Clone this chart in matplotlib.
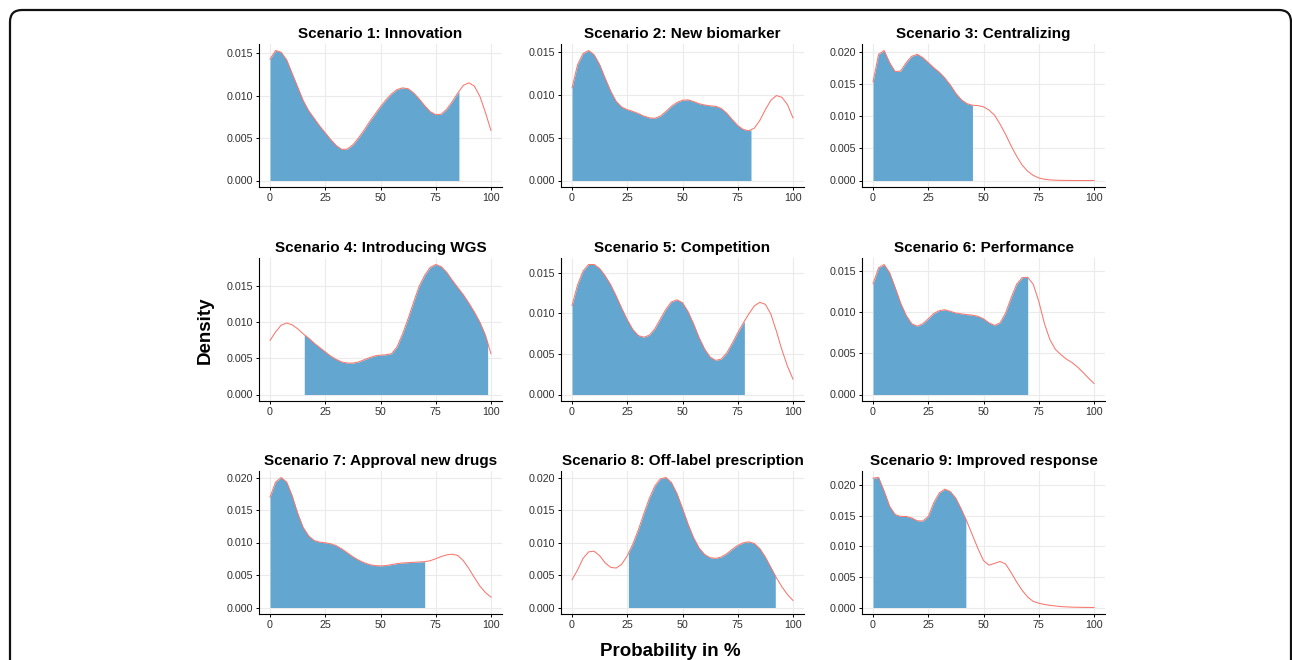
import numpy as np
import matplotlib
matplotlib.use('Agg')
import matplotlib.pyplot as plt
from matplotlib.ticker import MultipleLocator, FormatStrFormatter
from matplotlib.patches import FancyBboxPatch

plt.rcParams['font.family'] = ['Liberation Sans', 'DejaVu Sans']

# shared x grid (probability in %), density values (x 1e-3)
prob = [0, 2.5, 5, 7.5, 10, 12.5, 15, 17.5, 20, 22.5, 25, 27.5, 30, 32.5, 35,
        37.5, 40, 42.5, 45, 47.5, 50, 52.5, 55, 57.5, 60, 62.5, 65, 67.5, 70,
        72.5, 75, 77.5, 80, 82.5, 85, 87.5, 90, 92.5, 95, 97.5, 100]

titles = ['Scenario 1: Innovation', 'Scenario 2: New biomarker',
          'Scenario 3: Centralizing', 'Scenario 4: Introducing WGS',
          'Scenario 5: Competition', 'Scenario 6: Performance',
          'Scenario 7: Approval new drugs', 'Scenario 8: Off-label prescription',
          'Scenario 9: Improved response']

dens1 = [14.3, 15.3, 15.1, 14.2, 12.6, 11.0, 9.4, 8.2, 7.3, 6.4, 5.6, 4.8, 4.1,
         3.65, 3.7, 4.2, 5.0, 5.9, 6.9, 7.8, 8.7, 9.5, 10.2, 10.7, 10.9, 10.8,
         10.3, 9.6, 8.8, 8.1, 7.75, 7.8, 8.4, 9.3, 10.3, 11.2, 11.5, 11.1, 9.9,
         8.0, 5.9]
dens2 = [10.8, 13.5, 14.8, 15.15, 14.65, 13.5, 11.9, 10.4, 9.2, 8.55, 8.25,
         8.05, 7.8, 7.5, 7.3, 7.25, 7.5, 8.05, 8.65, 9.1, 9.35, 9.4, 9.2, 8.95,
         8.8, 8.7, 8.65, 8.4, 7.85, 7.1, 6.4, 5.95, 5.8, 6.1, 7.0, 8.25, 9.35,
         9.9, 9.7, 8.85, 7.3]
dens3 = [15.4, 19.7, 20.3, 18.4, 17.0, 17.1, 18.4, 19.4, 19.7, 19.2, 18.4, 17.6,
         16.9, 16.0, 14.9, 13.6, 12.6, 12.0, 11.75, 11.7, 11.5, 11.0, 10.2, 8.8,
         7.2, 5.4, 3.8, 2.4, 1.45, 0.8, 0.4, 0.2, 0.1, 0.05, 0.02, 0.01, 0.0,
         0.0, 0.0, 0.0, 0.0]
dens4 = [7.5, 8.65, 9.6, 9.9, 9.65, 9.1, 8.4, 7.8, 7.1, 6.5, 5.9, 5.3, 4.85, 4.5,
         4.35, 4.35, 4.5, 4.8, 5.1, 5.35, 5.45, 5.5, 5.65, 6.6, 8.4, 10.5, 12.8,
         15.0, 16.5, 17.6, 18.0, 17.7, 16.9, 15.8, 14.8, 13.8, 12.65, 11.4,
         10.0, 8.2, 5.65]
dens5 = [10.95, 13.5, 15.2, 16.0, 16.0, 15.5, 14.6, 13.5, 12.1, 10.6, 9.2, 8.0,
         7.25, 7.05, 7.3, 8.1, 9.3, 10.5, 11.4, 11.65, 11.3, 10.2, 8.7, 7.0,
         5.6, 4.6, 4.2, 4.35, 5.1, 6.3, 7.6, 8.8, 9.9, 10.9, 11.35, 11.1, 9.9,
         7.8, 5.5, 3.5, 1.9]
dens6 = [13.45, 15.4, 15.8, 14.8, 13.0, 11.1, 9.6, 8.6, 8.3, 8.6, 9.2, 9.85,
         10.2, 10.3, 10.1, 9.9, 9.8, 9.7, 9.65, 9.5, 9.2, 8.7, 8.4, 8.7, 9.9,
         11.75, 13.4, 14.2, 14.25, 13.4, 11.35, 8.7, 6.7, 5.5, 4.85, 4.3, 3.9,
         3.35, 2.7, 2.0, 1.35]
dens7 = [17.0, 19.3, 20.0, 19.3, 17.2, 14.5, 12.3, 11.0, 10.3, 10.05, 9.95, 9.8,
         9.5, 9.0, 8.4, 7.8, 7.3, 6.9, 6.6, 6.45, 6.4, 6.45, 6.6, 6.75, 6.85,
         6.9, 6.95, 7.0, 7.05, 7.2, 7.5, 7.85, 8.1, 8.2, 8.0, 7.2, 6.0, 4.6, 3.3,
         2.3, 1.6]
dens8 = [4.3, 5.8, 7.6, 8.6, 8.7, 8.0, 6.9, 6.2, 6.1, 6.7, 8.0, 9.8, 12.0, 14.5,
         16.9, 18.8, 19.9, 20.1, 19.3, 17.6, 15.3, 12.9, 10.8, 9.2, 8.2, 7.7,
         7.6, 7.8, 8.3, 9.0, 9.6, 10.0, 10.15, 9.9, 9.1, 7.8, 6.2, 4.6, 3.2, 2.0,
         1.1]
dens9 = [21.1, 21.2, 19.0, 16.5, 15.15, 14.85, 14.85, 14.6, 14.15, 14.1, 14.85,
         17.1, 18.7, 19.3, 18.9, 17.8, 16.0, 14.0, 11.8, 9.6, 7.65, 6.9, 7.2,
         7.5, 7.1, 5.7, 4.15, 2.8, 1.7, 1.0, 0.7, 0.5, 0.35, 0.25, 0.15, 0.1,
         0.06, 0.04, 0.02, 0.01, 0.0]

# shaded interval per scenario
fill_lo = [0, 0, 0, 15.5, 0, 0, 0, 25.5, 0]
fill_hi = [85.5, 81, 45, 98.5, 78, 70, 70, 92, 42]

all_dens = [dens1, dens2, dens3, dens4, dens5, dens6, dens7, dens8, dens9]

W, H = 1292, 660
fig = plt.figure(figsize=(W / 100, H / 100), dpi=100)

col_left = [259, 561, 862]
row_bottom = [187, 401, 614]
ax_w, ax_h = 243, 143

line_col = '#F8766D'
fill_col = '#63A6CF'
grid_col = '#EBEBEB'

x = np.array(prob)
for i, (title, d) in enumerate(zip(titles, all_dens)):
    r, c = divmod(i, 3)
    ax = fig.add_axes([col_left[c] / W, 1 - row_bottom[r] / H, ax_w / W, ax_h / H])
    y = np.array(d) / 1000.0

    # shaded part
    lo, hi = fill_lo[i], fill_hi[i]
    inside = (x > lo) & (x < hi)
    fx = np.concatenate([[lo], x[inside], [hi]])
    fy = np.interp(fx, x, y)
    ax.fill_between(fx, 0, fy, color=fill_col, linewidth=0, zorder=2)
    ax.plot(x, y, color=line_col, lw=0.75, zorder=3)

    ymax = y.max()
    ax.set_xlim(-5, 105)
    ax.set_ylim(-0.05 * ymax, 1.05 * ymax)
    ax.xaxis.set_major_locator(MultipleLocator(25))
    ax.yaxis.set_major_locator(MultipleLocator(0.005))
    ax.yaxis.set_major_formatter(FormatStrFormatter('%.3f'))
    ax.grid(True, color=grid_col, lw=0.8, zorder=0)
    ax.set_axisbelow(True)
    for s in ['top', 'right']:
        ax.spines[s].set_visible(False)
    for s in ['left', 'bottom']:
        ax.spines[s].set_linewidth(0.8)
        ax.spines[s].set_color('black')
    ax.tick_params(length=2.5, width=0.7, labelsize=7.7, colors='#303030',
                   pad=2)
    ax.tick_params(color='black')
    ax.set_title(title, fontsize=11, fontweight='bold', pad=4)

fig.text(205 / W, 1 - 330 / H, 'Density', rotation=90, fontsize=13.5,
         fontweight='bold', ha='center', va='center')
fig.text(670 / W, 1 - 651 / H, 'Probability in %', fontsize=13.5,
         fontweight='bold', ha='center', va='center')

# rounded frame around the figure (open at the bottom)
frame = FancyBboxPatch((0.10, -0.4), 12.81, 6.9,
                       boxstyle='round,pad=0,rounding_size=0.12',
                       transform=fig.dpi_scale_trans, fill=False,
                       edgecolor='#111111', lw=1.6, clip_on=False)
fig.patches.append(frame)

fig.savefig('out.png', dpi=100)
